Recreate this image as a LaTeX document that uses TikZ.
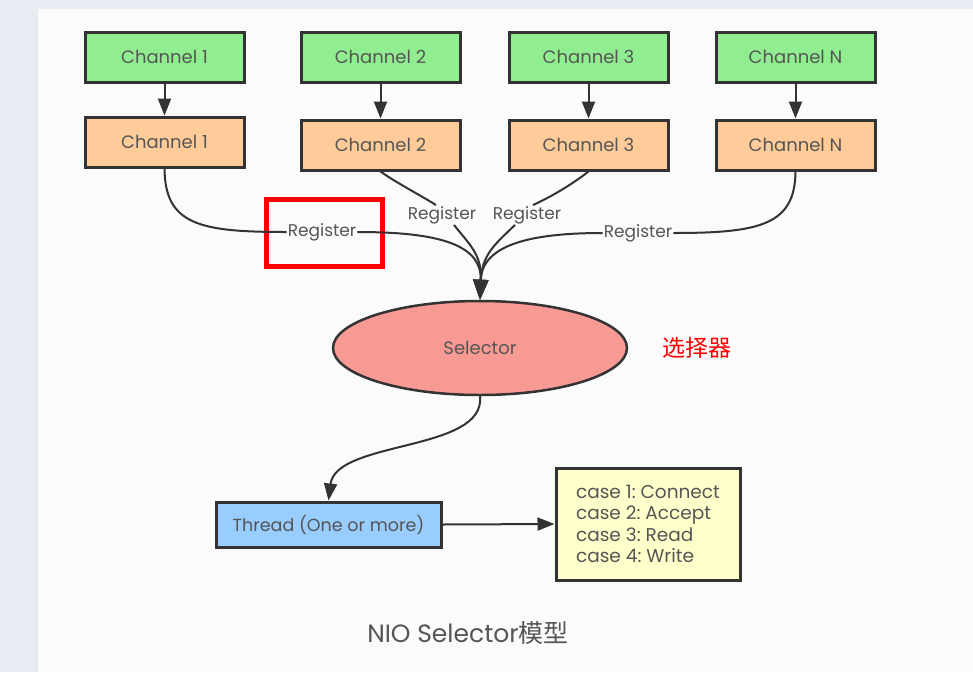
\documentclass[tikz,border=0pt]{standalone}
\usepackage{fontspec}
\setmainfont{Poppins}
\newfontfamily\cjk{Noto Sans CJK SC}
\usetikzlibrary{arrows.meta,shapes.geometric}
\definecolor{gfill}{HTML}{90EE90}
\definecolor{ofill}{HTML}{FFCC99}
\definecolor{bfill}{HTML}{99CCFF}
\definecolor{yfill}{HTML}{FFFFCC}
\definecolor{efill}{HTML}{F79A93}
\definecolor{edge}{HTML}{333333}
\definecolor{txt}{HTML}{555555}
\definecolor{side}{HTML}{E8ECF2}
\definecolor{page}{HTML}{FBFBFB}
\tikzset{
  box/.style={draw=edge, line width=3pt, minimum width=159pt, minimum height=50pt, inner sep=0pt, text=txt, font=\fontsize{18}{20}\selectfont},
  gbox/.style={box, fill=gfill},
  obox/.style={box, fill=ofill},
  conn/.style={draw=edge, line width=2pt},
  tip/.style={-{Triangle[length=17pt,width=13pt]}},
  bigtip/.style={-{Triangle[length=20pt,width=15pt]}},
  reg/.style={text=txt, font=\fontsize{17}{19}\selectfont, inner sep=1pt},
}
\begin{document}
\begin{tikzpicture}[x=1pt,y=-1pt]
\useasboundingbox (0,0) rectangle (973,672);
\fill[side] (0,0) rectangle (973,672);
\fill[page] (38,9) rectangle (973,672);
% green
\node[gbox] (g1) at (164.5,57) {Channel 1};
\node[gbox] (g2) at (380.5,57) {Channel 2};
\node[gbox] (g3) at (588.5,57) {Channel 3};
\node[gbox] (gN) at (795.5,57) {Channel N};
% orange
\node[obox] (o1) at (164.5,142) {Channel 1};
\node[obox] (o2) at (380.5,145) {Channel 2};
\node[obox] (o3) at (588.5,145) {Channel 3};
\node[obox] (oN) at (795.5,145) {Channel N};
\foreach \a/\b in {g1/o1,g2/o2,g3/o3,gN/oN}
  \draw[conn,tip] (\a.south) -- (\b.north);
% selector
\node[ellipse, draw=edge, line width=2.5pt, fill=efill, minimum width=294pt, minimum height=94pt, text=txt, font=\fontsize{18}{20}\selectfont] (sel) at (480,348) {Selector};
\node[text=red, font=\cjk\fontsize{23}{25}\selectfont] (xzq) at (697,348) {选择器};
% register labels
\node[reg] (r1) at (322,232) {Register};
\node[reg] (r2) at (442,215) {Register};
\node[reg] (r3) at (527,215) {Register};
\node[reg] (rN) at (638,233) {Register};
\node[draw=red, line width=5pt, minimum width=116pt, minimum height=67pt] (hl) at (324,232.5) {};
% curves
\draw[conn] (o1.south) .. controls (165,225) and (200,232) .. (r1.west);
\draw[conn,bigtip] (r1.east) .. controls (440,232) and (482,245) .. (sel.north);
\draw[conn] (o2.south) .. controls (395,182) and (420,195) .. ([xshift=-6pt]r2.north);
\draw[conn,bigtip] ([xshift=12pt]r2.south) .. controls (470,245) and (482,255) .. (sel.north);
\draw[conn] (o3.south) .. controls (575,182) and (555,195) .. ([xshift=6pt]r3.north);
\draw[conn,bigtip] ([xshift=-12pt]r3.south) .. controls (494,245) and (482,255) .. (sel.north);
\draw[conn] (oN.south) .. controls (795,225) and (760,233) .. (rN.east);
\draw[conn,bigtip] (rN.west) .. controls (530,233) and (482,245) .. (sel.north);
% thread and cases
\node[box, fill=bfill, minimum width=225pt, minimum height=45pt, font=\fontsize{17.5}{20}\selectfont] (th) at (328.5,524.5) {Thread (One or more)};
\node[draw=edge, line width=3pt, fill=yfill, minimum width=184pt, minimum height=112pt, text=txt, font=\fontsize{18.5}{21.3}\selectfont, align=left] (cs) at (648,524) {case 1:\ Connect\\case 2:\ Accept\\case 3:\ Read\\case 4:\ Write};
\draw[conn,tip] (sel.south) .. controls (486,452) and (336,440) .. (th.north);
\draw[conn,tip] (th.east) -- (cs.west);
\node[text=txt, font=\fontsize{25}{28}\selectfont] (title) at (468,633) {NIO Selector{\cjk 模型}};
\end{tikzpicture}
\end{document}
